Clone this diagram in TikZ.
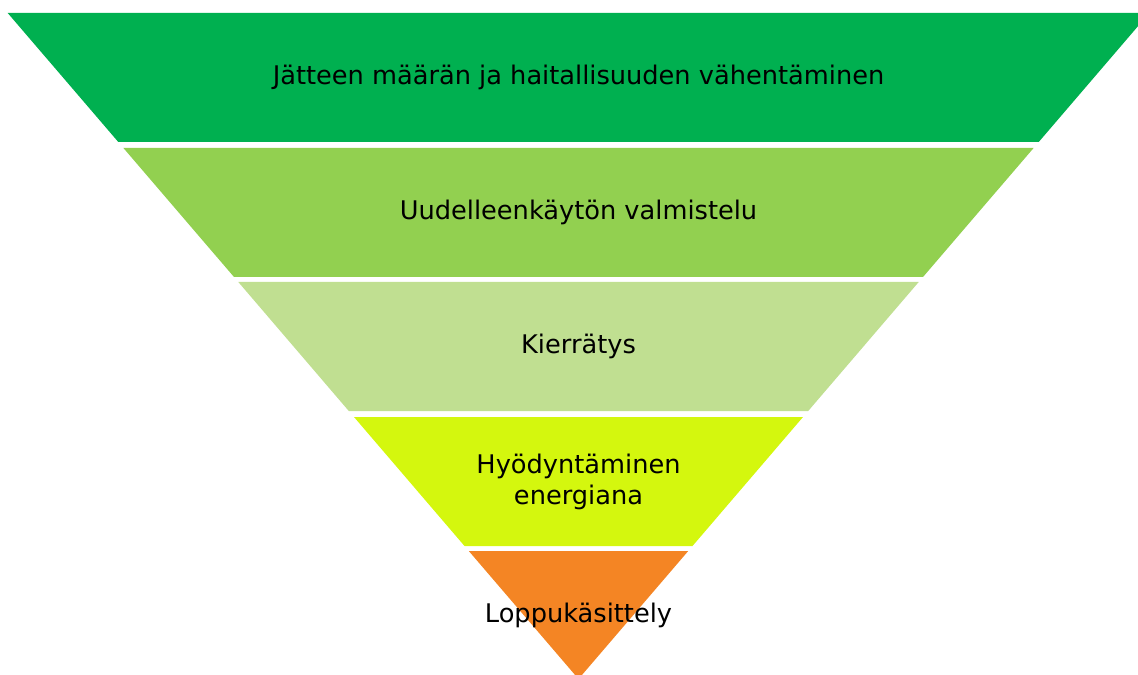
\documentclass[tikz,border=0pt]{standalone}
\usepackage{fontspec}
\setmainfont{DejaVu Sans}
\definecolor{nivel1}{RGB}{0,176,80}
\definecolor{nivel2}{RGB}{146,208,80}
\definecolor{nivel3}{RGB}{192,223,145}
\definecolor{nivel4}{RGB}{212,247,14}
\definecolor{nivel5}{RGB}{244,133,36}
\tikzset{
  etiqueta/.style={font=\fontsize{14.6}{17.6}\selectfont, align=center, text=black}
}
\begin{document}
\begin{tikzpicture}[x=0.02cm,y=-0.02cm]
			\useasboundingbox (0,0) rectangle (1138,675);
			\clip (0,0) rectangle (1138,675);

			% Niveles
			\fill[nivel1] (7.7,13) -- (1149.3,13) -- (1038.7,142) -- (118.3,142) -- cycle;
			\fill[nivel2] (123.4,148) -- (1033.6,148) -- (923,277) -- (234,277) -- cycle;
			\fill[nivel3] (238.3,282) -- (918.7,282) -- (808.2,411) -- (348.8,411) -- cycle;
			\fill[nivel4] (354,417) -- (803,417) -- (692.5,546) -- (464.5,546) -- cycle;
			\fill[nivel5] (468.8,551) -- (688.2,551) -- (578.5,679) -- cycle;

			% Textos
			\node[etiqueta] (reduccion) at (578.5,77.5) {Jätteen määrän ja haitallisuuden vähentäminen};
			\node[etiqueta] (reutilizacion) at (578.5,212.5) {Uudelleenkäytön valmistelu};
			\node[etiqueta] (reciclaje) at (578.5,346.5) {Kierrätys};
			\node[etiqueta] (energia) at (578.5,481.5) {Hyödyntäminen\\energiana};
			\node[etiqueta] (eliminacion) at (578.5,615) {Loppukäsittely};

		    \end{tikzpicture}
\end{document}
